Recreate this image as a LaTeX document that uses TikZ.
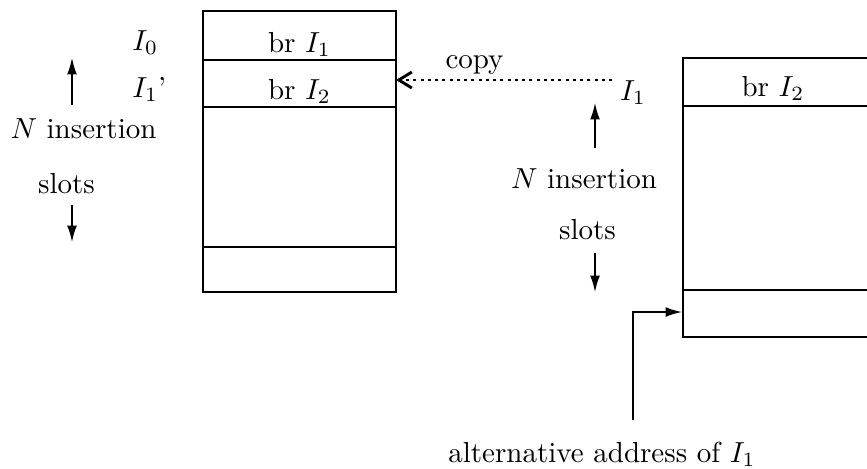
\documentclass[tikz,border=0pt]{standalone}
\usetikzlibrary{arrows.meta}
\begin{document}
\begin{tikzpicture}[x=0.345pt,y=-0.345pt,line width=0.95pt,
  txt/.style={inner sep=0pt,anchor=base},
  arr/.style={-{Latex[length=6pt,width=3.4pt]}},
  copyarr/.style={line width=1pt,dash pattern=on 1pt off 1.5pt,-{Straight Barb[length=4.5pt,width=5.5pt,line width=1pt]}}]
\useasboundingbox (0,0) rectangle (867,468);
\clip (0,0) rectangle (867,468);
% left memory block
\draw (203,11) rectangle (396,292);
\draw (203,60) -- (396,60);
\draw (203,107) -- (396,107);
\draw (203,247) -- (396,247);
\node[txt] (l1) at (299.5,52) {br $I_1$};
\node[txt] (l2) at (299.5,99) {br $I_2$};
\node[txt,anchor=base west] (i0) at (131,50) {$I_0$};
\node[txt,anchor=base west] (i1p) at (131,97) {$I_1$'};
\node[txt] (nl) at (83.5,138) {$N$ insertion};
\node[txt] (sl) at (66.5,193) {slots};
\coordinate (lu1) at (72,105); \coordinate (lu2) at (72,57);
\coordinate (ld1) at (72,205); \coordinate (ld2) at (72,243);
\draw[arr] (lu1) -- (lu2);
\draw[arr] (ld1) -- (ld2);
% copy arrow
\node[txt] (cp) at (474.5,68) {copy};
\node[txt] (i1) at (633,100) {$I_1$};
\coordinate (cs) at (612,80);
\coordinate (ce) at (396,80);
\draw[copyarr] (cs) -- (ce);
% middle labels
\node[txt] (nm) at (584,188) {$N$ insertion};
\node[txt] (sm) at (587.5,239) {slots};
\coordinate (mu1) at (595,148); \coordinate (mu2) at (595,102);
\coordinate (md1) at (595,253); \coordinate (md2) at (595,293);
\draw[arr] (mu1) -- (mu2);
\draw[arr] (md1) -- (md2);
% right memory block
\draw (900,58) -- (683,58) -- (683,337) -- (900,337);
\draw (683,106) -- (900,106);
\draw (683,290) -- (900,290);
\node[txt] (r1) at (773,96) {br $I_2$};
% alternative address
\node[txt] (alt) at (602,462) {alternative address of $I_1$};
\coordinate (as) at (633,420);
\coordinate (at) at (683,312);
\draw[arr] (as) |- (at);
\end{tikzpicture}
\end{document}
